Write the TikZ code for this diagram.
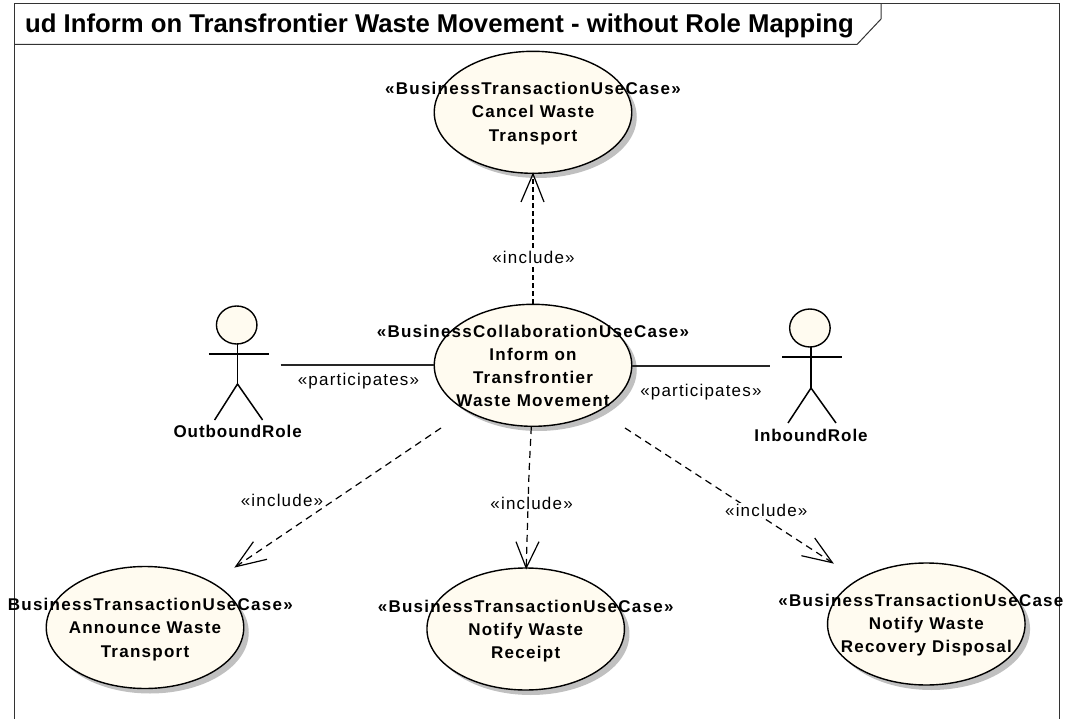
\documentclass[tikz,border=0pt]{standalone}
\usepackage{fontspec}
\setmainfont{Liberation Sans}
\newfontfamily\spaced[LetterSpace=7.4]{Liberation Sans}
\newfontfamily\spacedactor[LetterSpace=5.5]{Liberation Sans}
\newfontfamily\spacedrel[LetterSpace=7]{Liberation Sans}
\usetikzlibrary{shapes.geometric}
\definecolor{ucfill}{HTML}{FFFBF0}
\definecolor{ucshadow}{HTML}{C0C0C0}
\tikzset{
  ucase/.style={ellipse,draw=black,line width=1.4pt,fill=ucfill,minimum width=197.5pt,minimum height=122pt,inner sep=0pt},
  ucshade/.style={ellipse,fill=ucshadow,minimum width=197.5pt,minimum height=122pt,inner sep=0pt},
  uctext/.style={align=center,inner sep=0pt,font=\spaced\bfseries\fontsize{17}{23.2}\selectfont},
  actorlabel/.style={inner sep=0pt,font=\spacedactor\bfseries\fontsize{17}{20}\selectfont},
  rel/.style={inner sep=1pt,font=\spacedrel\fontsize{17}{20}\selectfont},
  relbg/.style={rel,fill=white},
  actorline/.style={line width=1.5pt,draw=black},
  assoc/.style={line width=1.5pt,draw=black!85},
  dep/.style={line width=1.2pt,dash pattern=on 7pt off 5pt,draw=black},
  depthick/.style={line width=1.8pt,dash pattern=on 5pt off 3pt,draw=black},
  barb/.style={line width=1.2pt,draw=black},
  framel/.style={line width=1pt,draw=black!80},
  head/.style={ellipse,draw=black,line width=1.4pt,fill=ucfill,minimum width=40.5pt,minimum height=38pt,inner sep=0pt}
}
\begin{document}
\begin{tikzpicture}[x=1pt,y=-1pt]
\useasboundingbox (0,0) rectangle (1068,719);
% frame
\coordinate (fbl) at (14.5,719);
\coordinate (ftl) at (14.5,3.5);
\coordinate (ftr) at (1059.5,3.5);
\coordinate (fbr) at (1059.5,719);
\coordinate (tabl) at (14.5,44.5);
\coordinate (tabb) at (857,44.5);
\coordinate (tabs) at (881,19);
\coordinate (tabt) at (881,3.5);
\draw[framel] (fbl) -- (ftl) -- (ftr) -- (fbr);
\draw[framel] (tabl) -- (tabb) -- (tabs) -- (tabt);
\node[anchor=west,inner sep=0pt,font=\bfseries\fontsize{25.7}{30}\selectfont] (title) at (25,25.5) {ud Inform on Transfrontier Waste Movement - without Role Mapping};
% shadows
\node[ucshade] (s1) at (538,117) {};
\node[ucshade] (s2) at (538,370) {};
\node[ucshade] (s3) at (150,632.5) {};
\node[ucshade] (s4) at (530.7,634) {};
\node[ucshade] (s5) at (931.3,629) {};
% use cases
\node[ucase] (cancel) at (533,112.3) {};
\node[ucase] (inform) at (533,365.3) {};
\node[ucase] (announce) at (145,627.5) {};
\node[ucase] (receipt) at (525.7,629) {};
\node[ucase] (recovery) at (926.3,624) {};
% connector end points
\coordinate (upT) at (533,174);
\coordinate (upA) at (521,202);
\coordinate (upB) at (544,202);
\coordinate (infB) at (533,304);
\coordinate (lS) at (441,428);
\coordinate (lT) at (235.7,566.7);
\coordinate (lA) at (253.4,541.7);
\coordinate (lB) at (267,559.3);
\coordinate (mS) at (531.3,427);
\coordinate (mM) at (529,473);
\coordinate (mT) at (526.2,568);
\coordinate (mA) at (516,541.7);
\coordinate (mB) at (539,541.7);
\coordinate (rS) at (625,428);
\coordinate (rT) at (832.4,562.7);
\coordinate (rA) at (814.7,538);
\coordinate (rB) at (801.4,555.7);
\coordinate (aL) at (280.7,365);
\coordinate (aLe) at (434.3,365);
\coordinate (aR) at (769.7,366);
\coordinate (aRe) at (631.8,366);
% connectors
\draw[depthick] (infB) -- (upT);
\draw[barb] (upA) -- (upT) -- (upB);
\draw[dep] (lS) -- (lT);
\draw[barb] (lA) -- (lT) -- (lB);
\draw[dep] (mS) -- (mM) -- (mT);
\draw[barb] (mA) -- (mT) -- (mB);
\draw[dep] (rS) -- (rT);
\draw[barb] (rA) -- (rT) -- (rB);
\draw[assoc] (aL) -- (aLe);
\draw[assoc] (aRe) -- (aR);
% left actor
\node[head] (lhead) at (236.7,325) {};
\coordinate (lneck) at (237.5,344);
\coordinate (lhip) at (237.5,384);
\coordinate (larmL) at (208.8,354);
\coordinate (larmR) at (268.7,354);
\coordinate (llegL) at (214.6,420);
\coordinate (llegR) at (262.6,420);
\draw[actorline] (lneck) -- (lhip);
\draw[actorline] (larmL) -- (larmR);
\draw[actorline] (llegL) -- (lhip) -- (llegR);
% right actor
\node[head] (rhead) at (809.9,328) {};
\coordinate (rneck) at (811,347);
\coordinate (rhip) at (811,388);
\coordinate (rarmL) at (782,357);
\coordinate (rarmR) at (842,357);
\coordinate (rlegL) at (788,423);
\coordinate (rlegR) at (836,423);
\draw[actorline] (rneck) -- (rhip);
\draw[actorline] (rarmL) -- (rarmR);
\draw[actorline] (rlegL) -- (rhip) -- (rlegR);
% labels
\node[uctext] (t1) at (533,113.5) {«BusinessTransactionUseCase»\\Cancel Waste\\Transport};
\node[uctext] (t2) at (533,366) {«BusinessCollaborationUseCase»\\Inform on\\Transfrontier\\Waste Movement};
\begin{scope}
\clip (7,560) rectangle (1068,700);
\node[uctext] (t3) at (145,629.5) {«BusinessTransactionUseCase»\\Announce Waste\\Transport};
\end{scope}
\node[uctext] (t4) at (525.7,631) {«BusinessTransactionUseCase»\\Notify Waste\\Receipt};
\begin{scope}
\clip (700,560) rectangle (1064,700);
\node[uctext] (t5) at (926.3,625) {«BusinessTransactionUseCase»\\Notify Waste\\Recovery Disposal};
\end{scope}
\node[actorlabel] (outb) at (237.7,431) {OutboundRole};
\node[actorlabel] (inb) at (811,435) {InboundRole};
\node[rel] (p1) at (358.5,381) {«participates»};
\node[rel] (p2) at (700.9,392) {«participates»};
\node[relbg] (i1) at (533.5,257) {«include»};
\node[relbg] (i2) at (282,500) {«include»};
\node[relbg] (i3) at (531.6,503) {«include»};
\node[relbg] (i4) at (766.3,510) {«include»};
\end{tikzpicture}
\end{document}
